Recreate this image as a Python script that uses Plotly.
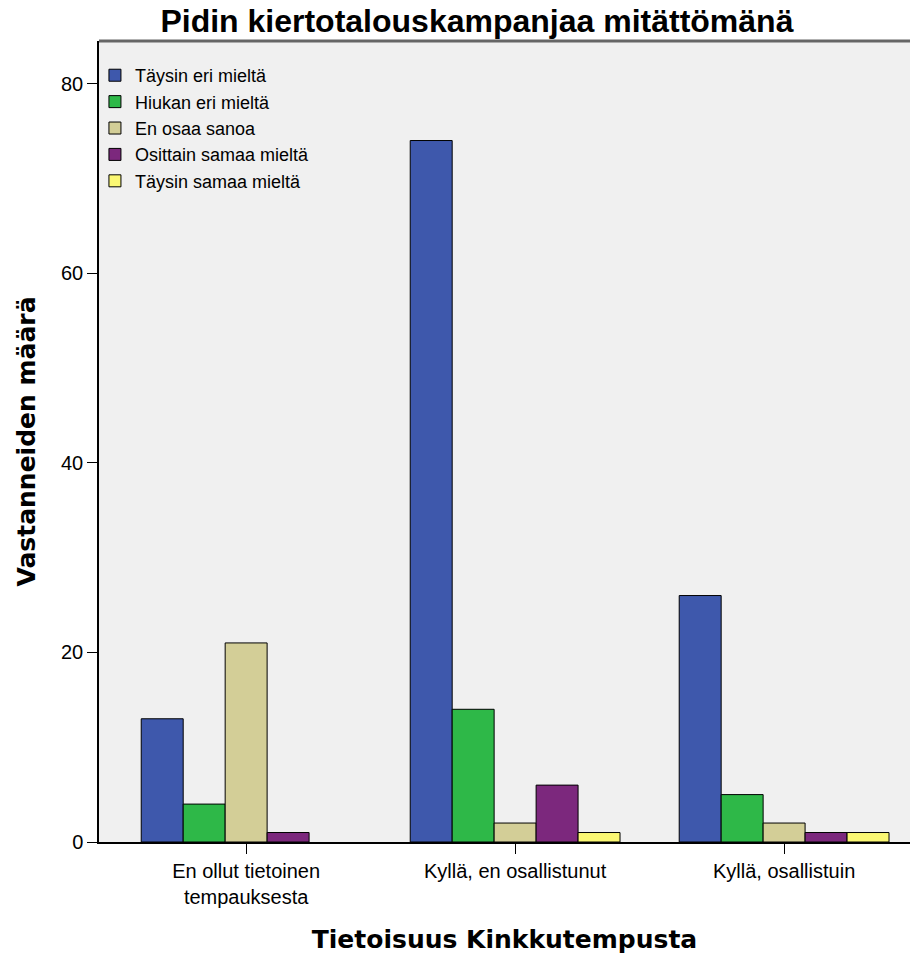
import plotly.graph_objects as go

categories = ["En ollut tietoinen<br>tempauksesta", "Kyllä, en osallistunut", "Kyllä, osallistuin"]
series_names = ["Täysin eri mieltä", "Hiukan eri mieltä", "En osaa sanoa",
                "Osittain samaa mieltä", "Täysin samaa mieltä"]
taysin_eri = [13, 74, 26]
hiukan_eri = [4, 14, 5]
en_osaa = [21, 2, 2]
osittain_samaa = [1, 6, 1]
taysin_samaa = [0, 1, 1]
colors = ["#3E58AC", "#2EB848", "#D3CE97", "#7C287D", "#FBF873"]
y_ticks = [0, 20, 40, 60, 80]

series_values = [taysin_eri, hiukan_eri, en_osaa, osittain_samaa, taysin_samaa]

fig = go.Figure()
for i, (name, vals) in enumerate(zip(series_names, series_values)):
    fig.add_trace(go.Bar(
        x=list(range(len(categories))),
        y=[v if v != 0 else None for v in vals],
        name=name,
        marker=dict(color=colors[i], line=dict(color="#000000", width=1)),
        legendgroup=f"g{i}",
    ))

arial = "Liberation Sans, Arial, sans-serif"
verdana = "DejaVu Sans, Verdana, sans-serif"
fig.update_layout(
    width=910, height=956,
    paper_bgcolor="#FFFFFF", plot_bgcolor="#F0F0F0",
    margin=dict(l=99, r=0, t=41, b=114),
    barmode="group", bargap=0.22, bargroupgap=0,
    font=dict(family=arial, size=19, color="#000000"),
    title=dict(text="<b>Pidin kiertotalouskampanjaa mitättömänä</b>", x=0.466, xanchor="center",
               xref="paper", y=1 - 21 / 956, yanchor="middle", yref="container",
               font=dict(size=32, family=arial, color="#000000")),
    showlegend=True,
    legend=dict(x=-0.005, y=0.98, xanchor="left", yanchor="top",
                bgcolor="rgba(0,0,0,0)", font=dict(size=18, family=arial),
                tracegroupgap=5, traceorder="normal"),
    xaxis=dict(tickmode="array", tickvals=list(range(len(categories))), ticktext=categories,
               range=[-0.547, 2.468], showgrid=False, zeroline=False,
               showline=True, linecolor="#000000", linewidth=1.5,
               ticks="outside", ticklen=10, tickcolor="#000000",
               tickfont=dict(size=20),
               title=dict(text="<b>Tietoisuus Kinkkutempusta</b>", standoff=24,
                          font=dict(size=25, family=verdana))),
    yaxis=dict(range=[0, 84.5], tickvals=y_ticks, showgrid=False, zeroline=False,
               showline=True, linecolor="#000000", linewidth=1.5,
               ticks="outside", ticklen=10, tickcolor="#000000",
               tickfont=dict(size=20),
               title=dict(text="<b>Vastanneiden määrä</b>", standoff=18,
                          font=dict(size=25, family=verdana))),
)
fig.add_shape(type="line", xref="paper", yref="paper", x0=0, x1=1, y0=1, y1=1,
              line=dict(color="#666666", width=3))
fig.write_html("out.html", post_script="document.body.style.margin='0';",
               config={"displayModeBar": False})
